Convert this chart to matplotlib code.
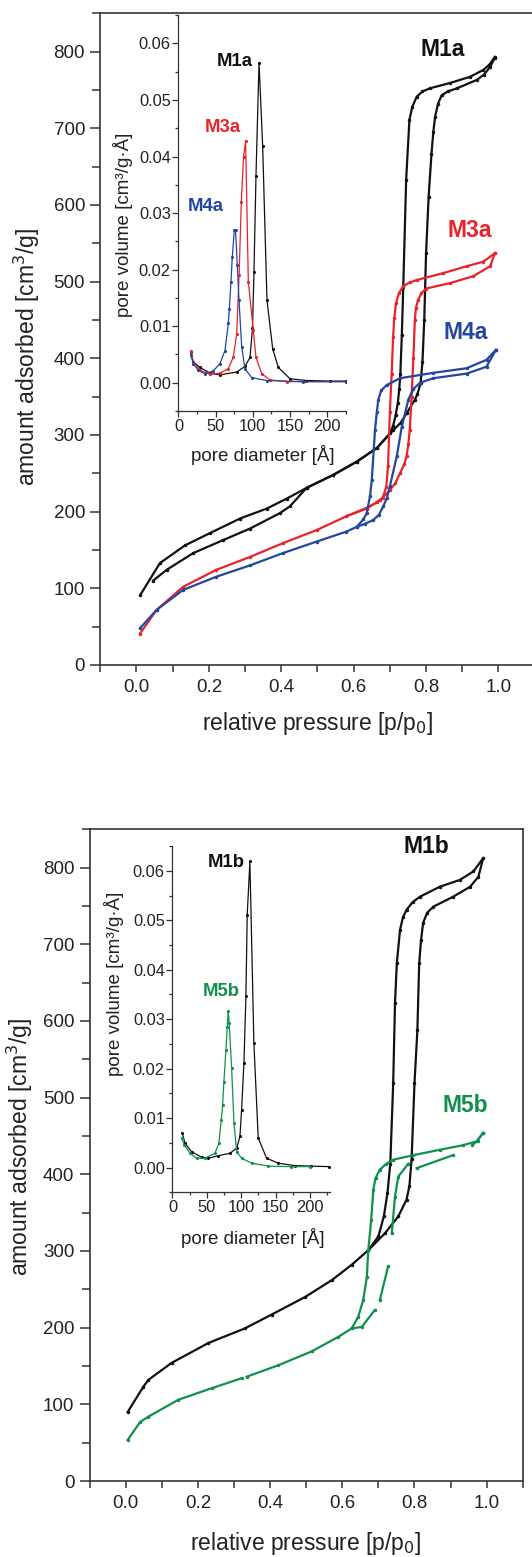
import numpy as np
import matplotlib
matplotlib.use("Agg")
import matplotlib.pyplot as plt
from matplotlib.ticker import MultipleLocator

plt.rcParams['font.family'] = ['Liberation Sans', 'DejaVu Sans']

BLACK = '#111111'
RED = '#e8232b'
BLUE = '#2346a0'
GREEN = '#11904c'
AXC = '#333333'

# ---- isotherms, series a (relative pressure p/p0, amount adsorbed cm3/g) ----
m1a_ads_p = [0.046, 0.083, 0.157, 0.24, 0.314, 0.396, 0.424, 0.47, 0.544, 0.608, 0.664, 0.709, 0.73,
             0.746, 0.769, 0.776, 0.785, 0.79, 0.795, 0.80, 0.807, 0.815, 0.82, 0.825, 0.833, 0.843,
             0.86, 0.885, 0.94, 0.96, 0.977, 0.99]
m1a_ads_v = [110, 124, 146, 163, 178, 198, 207, 231, 248, 265, 283, 306, 316,
             328, 346, 353, 368, 395, 450, 537, 610, 667, 695, 715, 732, 743,
             748, 752, 763, 770, 780, 792]
m1a_des_p = [0.01, 0.065, 0.134, 0.203, 0.286, 0.36, 0.415, 0.47, 0.544, 0.608, 0.664, 0.70, 0.709,
             0.716, 0.722, 0.726, 0.729, 0.733, 0.737, 0.745, 0.754, 0.762, 0.774, 0.79, 0.81, 0.866,
             0.921, 0.958, 0.975, 0.99]
m1a_des_v = [91, 133, 156, 172, 191, 204, 217, 231, 248, 265, 283, 302, 312,
             326, 342, 360, 380, 430, 493, 633, 711, 728, 741, 748, 752, 759,
             767, 776, 783, 793]

m3a_ads_p = [0.0097, 0.056, 0.129, 0.22, 0.314, 0.405, 0.498, 0.58, 0.636, 0.673, 0.70, 0.715, 0.728,
             0.74, 0.746, 0.751, 0.755, 0.76, 0.765, 0.769, 0.772, 0.778, 0.787, 0.80, 0.866, 0.93,
             0.977, 0.99]
m3a_ads_v = [41, 72, 102, 124, 141, 159, 176, 194, 204, 215, 228, 237, 250,
             262, 272, 288, 307, 350, 400, 450, 466, 476, 485, 491, 498, 507,
             520, 537]
m3a_des_p = [0.58, 0.636, 0.664, 0.68, 0.69, 0.695, 0.70, 0.705, 0.709, 0.712, 0.717, 0.725, 0.737,
             0.755, 0.774, 0.847, 0.912, 0.958, 0.99]
m3a_des_v = [194, 205, 212, 218, 232, 260, 330, 380, 428, 452, 472, 485, 494,
             499, 502, 511, 520, 526, 537]

m4a_ads_p = [0.0097, 0.056, 0.129, 0.22, 0.314, 0.405, 0.498, 0.58, 0.608, 0.63, 0.654, 0.67, 0.682,
             0.692, 0.70, 0.719, 0.733, 0.751, 0.765, 0.783, 0.82, 0.912, 0.967, 0.993]
m4a_ads_v = [48, 72, 98, 115, 130, 146, 161, 174, 180, 184, 189, 196, 207,
             218, 233, 272, 311, 346, 360, 368, 374, 380, 389, 411]
m4a_des_p = [0.608, 0.627, 0.636, 0.645, 0.65, 0.659, 0.664, 0.668, 0.676, 0.691, 0.728, 0.82, 0.912,
             0.967, 0.993]
m4a_des_v = [180, 190, 198, 220, 241, 307, 330, 346, 358, 365, 374, 381, 387,
             398, 411]

# ---- isotherms, series b ----
m1b_ads_p = [0.0055, 0.049, 0.063, 0.127, 0.229, 0.33, 0.404, 0.497, 0.571, 0.626, 0.672, 0.718, 0.755,
             0.778, 0.786, 0.792, 0.80, 0.808, 0.813, 0.818, 0.824, 0.835, 0.852, 0.907, 0.954, 0.977,
             0.99]
m1b_ads_v = [90, 123, 132, 154, 180, 199, 217, 240, 262, 282, 301, 323, 345,
             367, 385, 420, 519, 588, 675, 705, 728, 741, 749, 762, 775, 788,
             812]
m1b_des_p = [0.672, 0.70, 0.715, 0.725, 0.733, 0.741, 0.746, 0.751, 0.76, 0.768, 0.778, 0.795, 0.815,
             0.87, 0.926, 0.963, 0.99]
m1b_des_v = [301, 319, 345, 375, 414, 519, 623, 675, 719, 735, 745, 755, 762,
             775, 784, 795, 812]

# M5b has gaps in the measured series (nan breaks the line)
m5b_up_p = [0.0055, 0.04, 0.063, 0.146, 0.238, 0.321, np.nan, 0.335, 0.423, 0.515, 0.589, 0.626, 0.644,
            0.658, 0.668, 0.672, 0.68, 0.686, 0.692, 0.704, 0.72, 0.741, 0.797, 0.87, 0.935, 0.972, 0.99]
m5b_up_v = [53.5, 77, 84, 106, 121, 134, np.nan, 136, 151, 169, 188, 199, 214,
            236, 266, 301, 340, 380, 395, 406, 413, 419, 425, 432, 438, 443, 454]
m5b_lo_p = [0.626, 0.654, 0.69, np.nan, 0.704, 0.727, np.nan, 0.737, 0.746, 0.755, 0.783, np.nan,
            0.806, 0.907, np.nan, 0.96, 0.975, 0.99]
m5b_lo_v = [199, 201, 223, np.nan, 236, 280, np.nan, 323, 371, 397, 414, np.nan,
            408, 425, np.nan, 438, 444, 454]

# ---- pore size distributions (pore diameter A, pore volume cm3/g/A) ----
m1a_d = [16.4, 19.9, 28.9, 42.4, 55.8, 78.3, 89.4, 96.2, 99.5, 101.5, 104.2, 108.3, 113.2, 119, 126.7,
         134.3, 150, 172, 204, 225]
m1a_pv = [0.0054, 0.0037, 0.0027, 0.0017, 0.0014, 0.0019, 0.0029, 0.0045, 0.0096, 0.0196, 0.0365, 0.0566,
          0.0418, 0.0146, 0.006, 0.0027, 0.0007, 0.0004, 0.0003, 0.0003]
m3a_d = [16.4, 19.9, 28.9, 42.4, 55.8, 67, 73.7, 78.3, 81.5, 84.5, 87.5, 90.3, 93.9, 100.6, 104.2,
         111.9, 123, 145.5, 225]
m3a_pv = [0.0056, 0.0037, 0.0022, 0.0015, 0.0017, 0.0025, 0.0045, 0.0087, 0.019, 0.032, 0.040, 0.0427,
          0.0179, 0.0093, 0.0045, 0.0016, 0.0005, 0.0002, 0.0002]
m4a_d = [16.4, 19.9, 26.6, 35.6, 46.8, 55.8, 62.5, 67, 68.4, 70.6, 72.4, 75.1, 76.7, 79.1, 81.4, 85,
         89.4, 98.4, 118.6, 168, 225]
m4a_pv = [0.0049, 0.0034, 0.0022, 0.0016, 0.0021, 0.0034, 0.0057, 0.0105, 0.0131, 0.0179, 0.0223, 0.027,
          0.027, 0.0208, 0.0146, 0.0063, 0.0025, 0.0009, 0.0004, 0.0002, 0.0002]

m1b_d = [14.3, 18.2, 27.9, 42.4, 52, 66.7, 83.6, 93.4, 98.2, 100.6, 104, 106.9, 108.8, 112.7, 118.5,
         124.8, 137, 153.9, 178, 202, 228]
m1b_pv = [0.007, 0.0049, 0.0032, 0.0021, 0.0019, 0.0024, 0.0029, 0.0039, 0.0063, 0.0117, 0.0211, 0.0346,
          0.0511, 0.0619, 0.0252, 0.006, 0.0019, 0.0009, 0.0004, 0.0003, 0.0002]
m5b_d = [13.4, 17.2, 25.5, 35.2, 47.3, 61.8, 67.5, 71, 73, 74.9, 77.8, 79.7, 81.2, 82.6, 86.1, 89.5,
         93.4, 100.6, 115.2, 139.4, 172, 200]
m5b_pv = [0.006, 0.0046, 0.0029, 0.0019, 0.0019, 0.0029, 0.0049, 0.0096, 0.0127, 0.0174, 0.0238, 0.0285,
          0.0317, 0.0292, 0.0201, 0.009, 0.0032, 0.0019, 0.0009, 0.0003, 0.0002, 0.0002]

fig = plt.figure(figsize=(5.32, 15.57), dpi=100)


def style_main(ax, ylab_xy, xlab_xy):
    ax.set_xlim(-0.1, 1.1)
    ax.set_ylim(0, 850)
    ax.xaxis.set_major_locator(MultipleLocator(0.2))
    ax.xaxis.set_minor_locator(MultipleLocator(0.1))
    ax.yaxis.set_major_locator(MultipleLocator(100))
    ax.yaxis.set_minor_locator(MultipleLocator(50))
    ax.xaxis.set_major_formatter(plt.FuncFormatter(lambda v, _: f"{v:.1f}"))
    ax.tick_params(axis='x', which='major', length=5, width=1.1, pad=5, labelsize=13.5,
                   colors=AXC, labelcolor='#222222')
    ax.tick_params(axis='x', which='minor', length=5, width=1.1, colors=AXC)
    ax.tick_params(axis='y', which='major', length=7, width=1.1, pad=4, labelsize=13.5,
                   colors=AXC, labelcolor='#222222')
    ax.tick_params(axis='y', which='minor', length=5.5, width=1.1, colors=AXC)
    for s in ax.spines.values():
        s.set_linewidth(1.2)
        s.set_color(AXC)
    ax.set_ylabel('amount adsorbed [cm$^3$/g]', fontsize=16.5, color='#222222', va='center')
    ax.yaxis.set_label_coords(*ylab_xy)
    ax.set_xlabel('relative pressure [p/p$_0$]', fontsize=16.5, color='#222222', va='top')
    ax.xaxis.set_label_coords(*xlab_xy)


def style_inset(ax, xmax, ylab_xy, xlab_xy):
    ax.set_facecolor('none')
    ax.set_xlim(0, xmax)
    ax.set_ylim(-0.005, 0.065)
    ax.xaxis.set_major_locator(MultipleLocator(50))
    ax.xaxis.set_minor_locator(MultipleLocator(25))
    ax.yaxis.set_major_locator(MultipleLocator(0.01))
    ax.yaxis.set_minor_locator(MultipleLocator(0.005))
    ax.yaxis.set_major_formatter(plt.FuncFormatter(lambda v, _: f"{v:.2f}"))
    ax.spines['top'].set_visible(False)
    ax.spines['right'].set_visible(False)
    for s in ('left', 'bottom'):
        ax.spines[s].set_linewidth(0.9)
        ax.spines[s].set_color(AXC)
    ax.tick_params(which='major', length=4, width=0.9, pad=1.5, labelsize=11.8,
                   colors=AXC, labelcolor='#222222')
    ax.tick_params(which='minor', length=2.5, width=0.9, colors=AXC)
    ax.set_ylabel('pore volume [cm³/g·Å]', fontsize=13.5, color='#222222', va='center')
    ax.yaxis.set_label_coords(*ylab_xy)
    ax.set_xlabel('pore diameter [Å]', fontsize=13.5, color='#222222', va='top')
    ax.xaxis.set_label_coords(*xlab_xy)


main_kw = dict(lw=1.6, marker='.', ms=3)
inset_kw = dict(lw=0.9, marker='.', ms=2.5)

# top panel: M1a, M3a, M4a
ax1 = fig.add_axes([0.1885, 0.5729, 0.8165, 0.4186])
ax1.plot(m1a_ads_p, m1a_ads_v, color=BLACK, **main_kw)
ax1.plot(m1a_des_p, m1a_des_v, color=BLACK, **main_kw)
ax1.plot(m3a_ads_p, m3a_ads_v, color=RED, **main_kw)
ax1.plot(m3a_des_p, m3a_des_v, color=RED, **main_kw)
ax1.plot(m4a_ads_p, m4a_ads_v, color=BLUE, **main_kw)
ax1.plot(m4a_des_p, m4a_des_v, color=BLUE, **main_kw)
style_main(ax1, (-0.169, 0.472), (0.5, -0.069))
lab = dict(fontsize=16.5, fontweight='bold', ha='center', va='center')
ax1.text(0.846, 803, 'M1a', color=BLACK, **lab)
ax1.text(0.92, 567, 'M3a', color=RED, **lab)
ax1.text(0.909, 434, 'M4a', color=BLUE, **lab)

in1 = fig.add_axes([0.3355, 0.736, 0.3145, 0.2543])
in1.plot(m1a_d, m1a_pv, color=BLACK, **inset_kw)
in1.plot(m3a_d, m3a_pv, color=RED, **inset_kw)
in1.plot(m4a_d, m4a_pv, color=BLUE, **inset_kw)
style_inset(in1, 225, (-0.332, 0.47), (0.505, -0.086))
ilab = dict(fontsize=13.3, fontweight='bold', ha='center', va='center')
in1.text(75.3, 0.0568, 'M1a', color=BLACK, **ilab)
in1.text(60, 0.0451, 'M3a', color=RED, **ilab)
in1.text(36, 0.0312, 'M4a', color=BLUE, **ilab)

# bottom panel: M1b, M5b
ax2 = fig.add_axes([0.1684, 0.0488, 0.8143, 0.4186])
ax2.plot(m1b_ads_p, m1b_ads_v, color=BLACK, **main_kw)
ax2.plot(m1b_des_p, m1b_des_v, color=BLACK, **main_kw)
ax2.plot(m5b_up_p, m5b_up_v, color=GREEN, **main_kw)
ax2.plot(m5b_lo_p, m5b_lo_v, color=GREEN, **main_kw)
style_main(ax2, (-0.161, 0.513), (0.498, -0.075))
ax2.text(0.834, 827, 'M1b', color=BLACK, **lab)
ax2.text(0.94, 490, 'M5b', color=GREEN, **lab)

in2 = fig.add_axes([0.3242, 0.2342, 0.297, 0.2224])
in2.plot(m1b_d, m1b_pv, color=BLACK, **inset_kw)
in2.plot(m5b_d, m5b_pv, color=GREEN, **inset_kw)
style_inset(in2, 230, (-0.372, 0.602), (0.508, -0.103))
in2.text(78.8, 0.0617, 'M1b', color=BLACK, **ilab)
in2.text(70.3, 0.0356, 'M5b', color=GREEN, **ilab)

fig.savefig('out.png', dpi=100)
